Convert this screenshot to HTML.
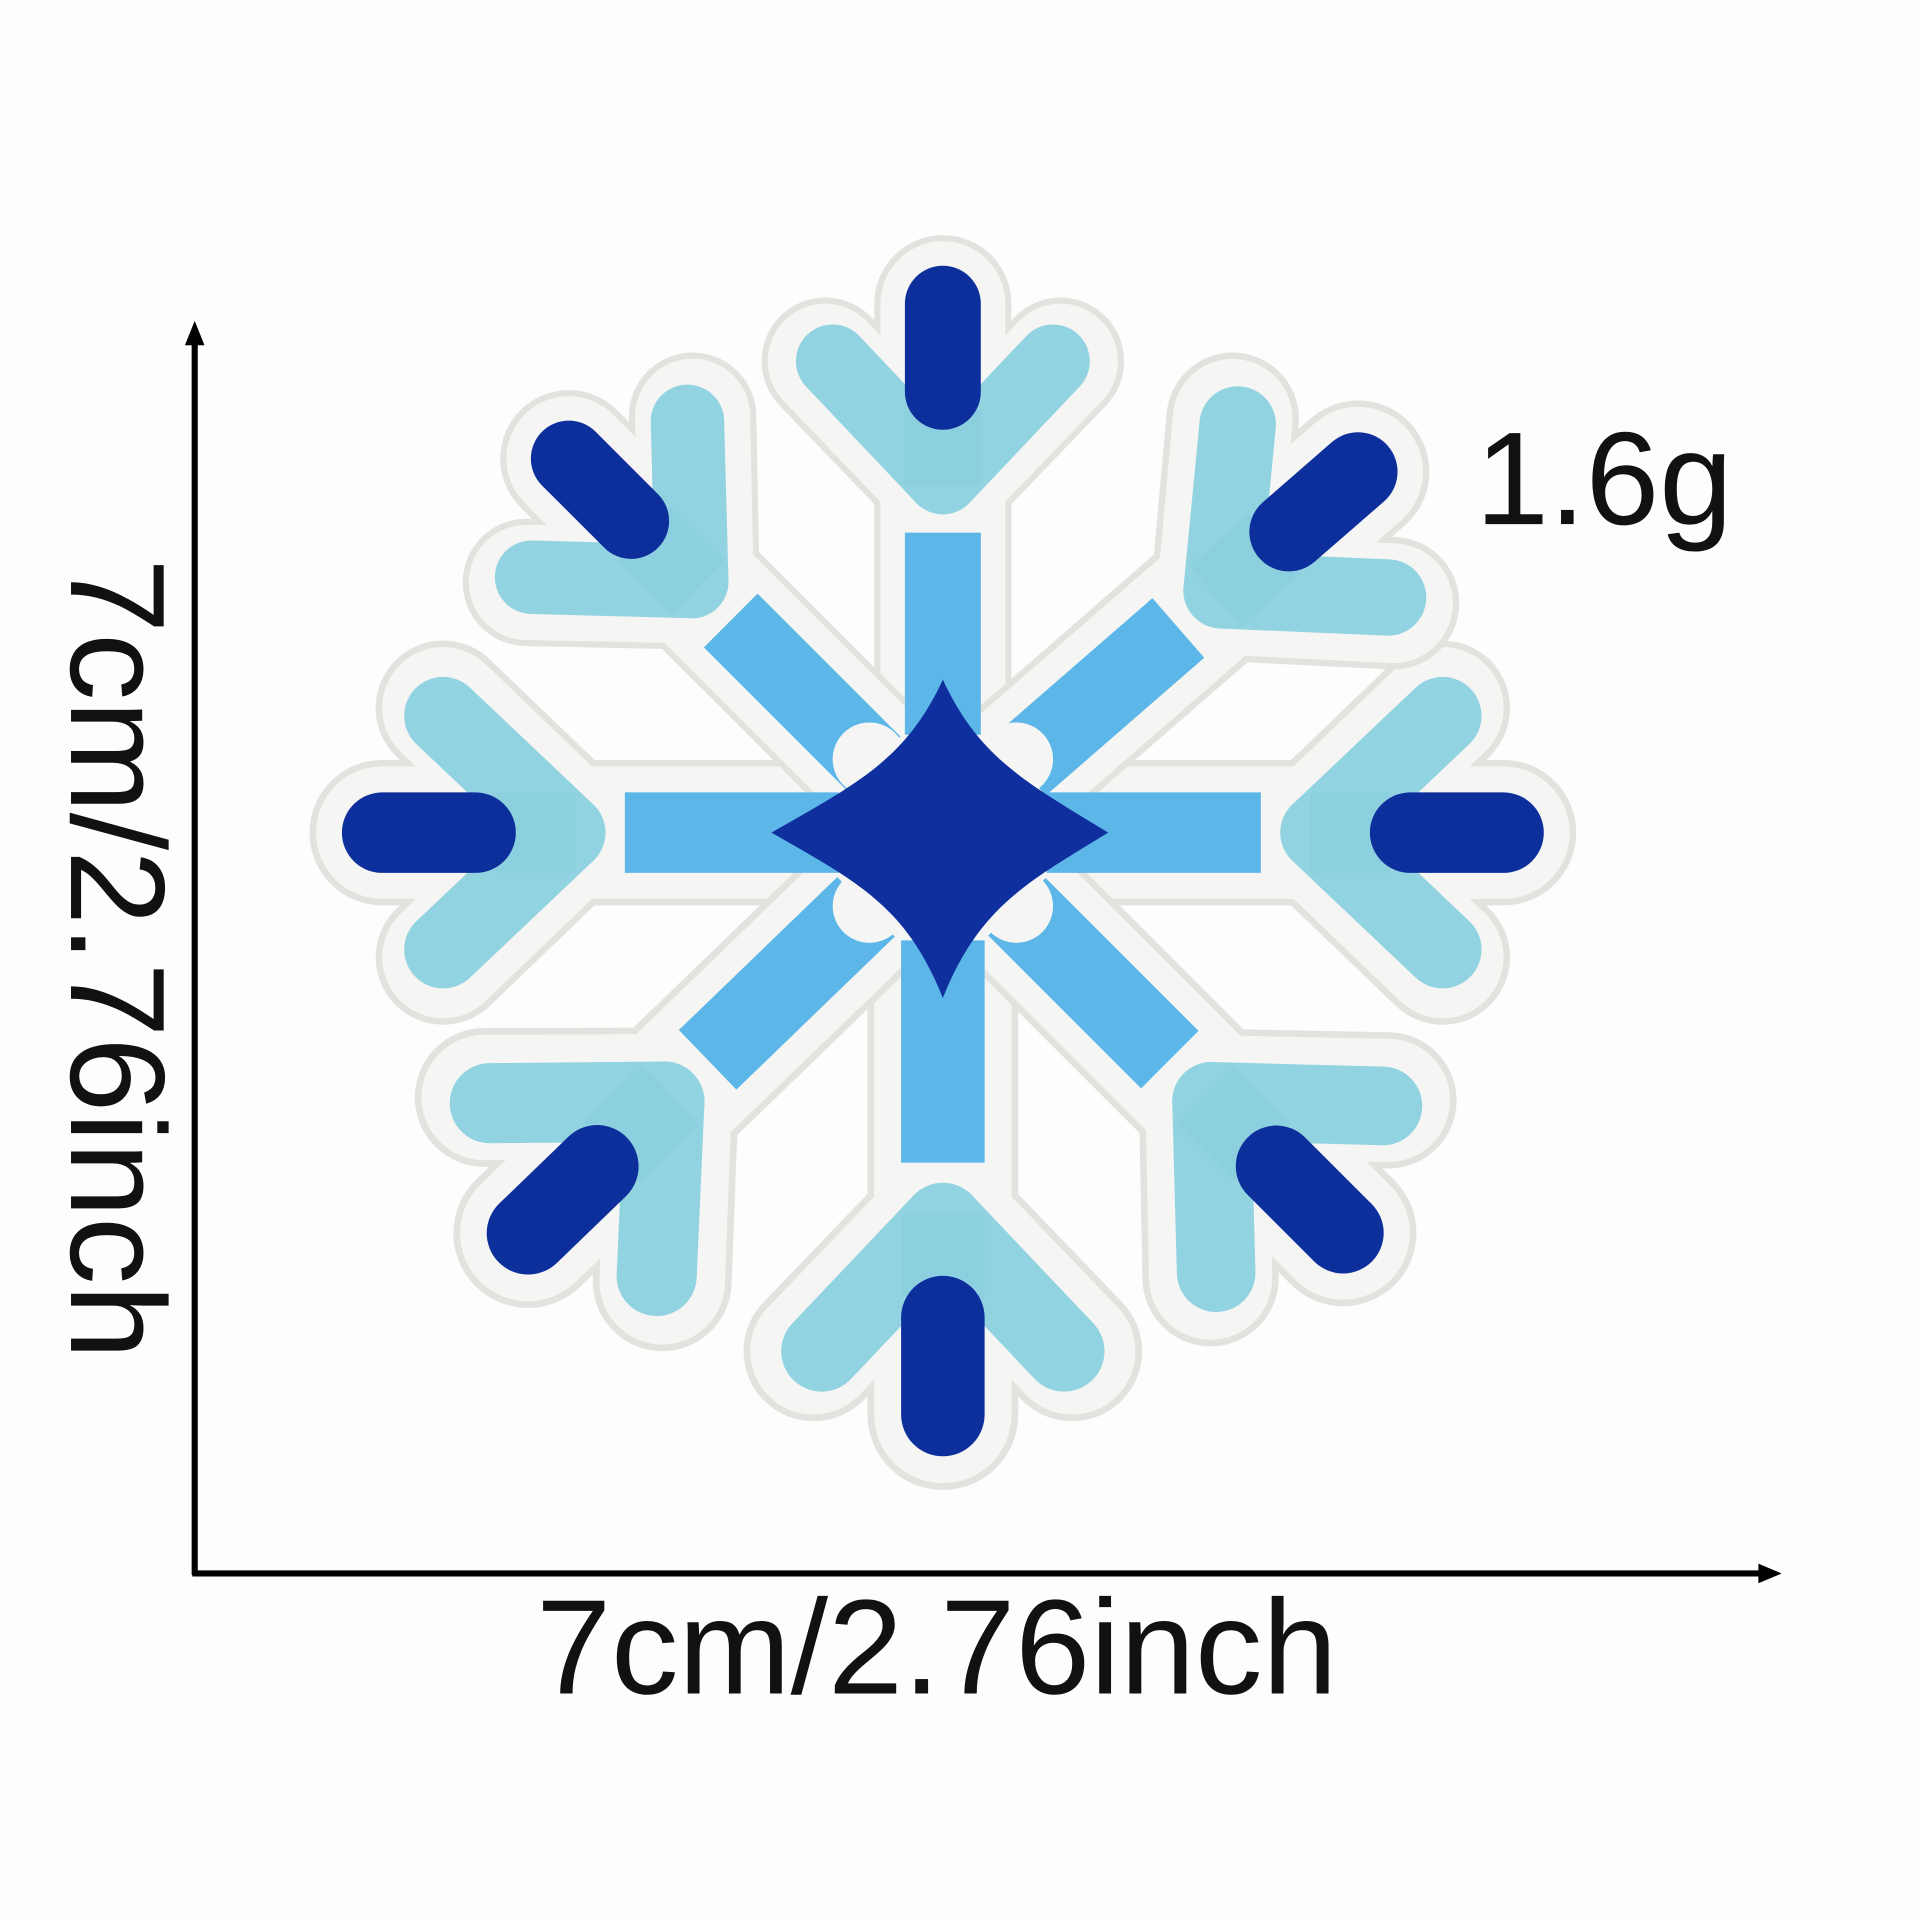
<!DOCTYPE html>
<html><head><style>
html,body{margin:0;padding:0;background:#fff;}
svg{display:block;}
text{font-family:"Liberation Sans","DejaVu Sans",sans-serif;fill:#111;}
</style></head><body>
<svg width="1920" height="1920" viewBox="0 0 1568 1568">
<rect width="1568" height="1568" fill="#fdfdfd"/>
<defs>
<g id="arm-outline">
<line x1="0" y1="0" x2="0" y2="-432" stroke="#e2e2df" stroke-width="112" stroke-linecap="round"/>
<line x1="0" y1="-285" x2="-96" y2="-385" stroke="#e2e2df" stroke-width="104" stroke-linecap="round"/>
<line x1="0" y1="-285" x2="96" y2="-385" stroke="#e2e2df" stroke-width="104" stroke-linecap="round"/>
<line x1="0" y1="0" x2="0" y2="-432" stroke="#f5f5f3" stroke-width="102" stroke-linecap="round"/>
<line x1="0" y1="-285" x2="-96" y2="-385" stroke="#f5f5f3" stroke-width="94" stroke-linecap="round"/>
<line x1="0" y1="-285" x2="96" y2="-385" stroke="#f5f5f3" stroke-width="94" stroke-linecap="round"/>
</g>
<g id="arm-color">
<line x1="0" y1="-80" x2="0" y2="-245" stroke="#5cb6e8" stroke-width="62"/>
<line x1="0" y1="-290" x2="-90" y2="-385" stroke="#92d3e2" stroke-width="60" stroke-linecap="round"/>
<line x1="0" y1="-290" x2="90" y2="-385" stroke="#92d3e2" stroke-width="60" stroke-linecap="round"/>
<rect x="-31" y="-345" width="62" height="62" fill="#8ccfdf"/>
<line x1="0" y1="-360" x2="0" y2="-432" stroke="#0d2f9c" stroke-width="62" stroke-linecap="round"/>
</g>
</defs>
<g transform="translate(770,680)">
<g>
<use href="#arm-outline" transform="rotate(0)"/>
<use href="#arm-outline" transform="rotate(90) scale(1.06)"/>
<use href="#arm-outline" transform="rotate(180) scale(1.1)"/>
<use href="#arm-outline" transform="rotate(270) scale(1.06)"/>
<use href="#arm-outline" transform="rotate(-45) scale(1.0)"/>
<use href="#arm-outline" transform="rotate(49) scale(1.04)"/>
<use href="#arm-outline" transform="rotate(135) scale(1.07)"/>
<use href="#arm-outline" transform="rotate(-134) scale(1.09)"/>
</g>
<g>
<use href="#arm-color" transform="rotate(0)"/>
<use href="#arm-color" transform="rotate(90) scale(1.06)"/>
<use href="#arm-color" transform="rotate(180) scale(1.1)"/>
<use href="#arm-color" transform="rotate(270) scale(1.06)"/>
<use href="#arm-color" transform="rotate(-45) scale(1.0)"/>
<use href="#arm-color" transform="rotate(49) scale(1.04)"/>
<use href="#arm-color" transform="rotate(135) scale(1.07)"/>
<use href="#arm-color" transform="rotate(-134) scale(1.09)"/>
</g>
<g>
<circle cx="-60" cy="-60" r="30" fill="#f5f5f3"/>
<circle cx="60" cy="-60" r="30" fill="#f5f5f3"/>
<circle cx="-60" cy="60" r="30" fill="#f5f5f3"/>
<circle cx="60" cy="60" r="30" fill="#f5f5f3"/>
<path d="M0,-125 C30,-60 70,-40 135,0 C70,40 30,60 0,135 C-30,60 -70,40 -140,0 C-70,-40 -30,-60 0,-125 Z" fill="#0f2f9e"/>
<ellipse cx="0" cy="0" rx="70" ry="55" fill="#0f2f9e"/>
</g>
</g>
<g>
<line x1="159" y1="272" x2="159" y2="1286" stroke="#000" stroke-width="5"/>
<polygon points="159,262 151,282 167,282" fill="#000"/>
</g>
<g>
<line x1="157" y1="1285" x2="1442" y2="1285" stroke="#000" stroke-width="5"/>
<polygon points="1455,1285 1436,1277 1436,1293" fill="#000"/>
</g>
<text x="765" y="1383" font-size="110" text-anchor="middle">7cm/2.76inch</text>
<text x="0" y="0" font-size="110" text-anchor="middle" transform="translate(58,783) rotate(90)">7cm/2.76inch</text>
<text x="1310" y="428" font-size="108" text-anchor="middle">1.6g</text>
</svg>
</body></html>
